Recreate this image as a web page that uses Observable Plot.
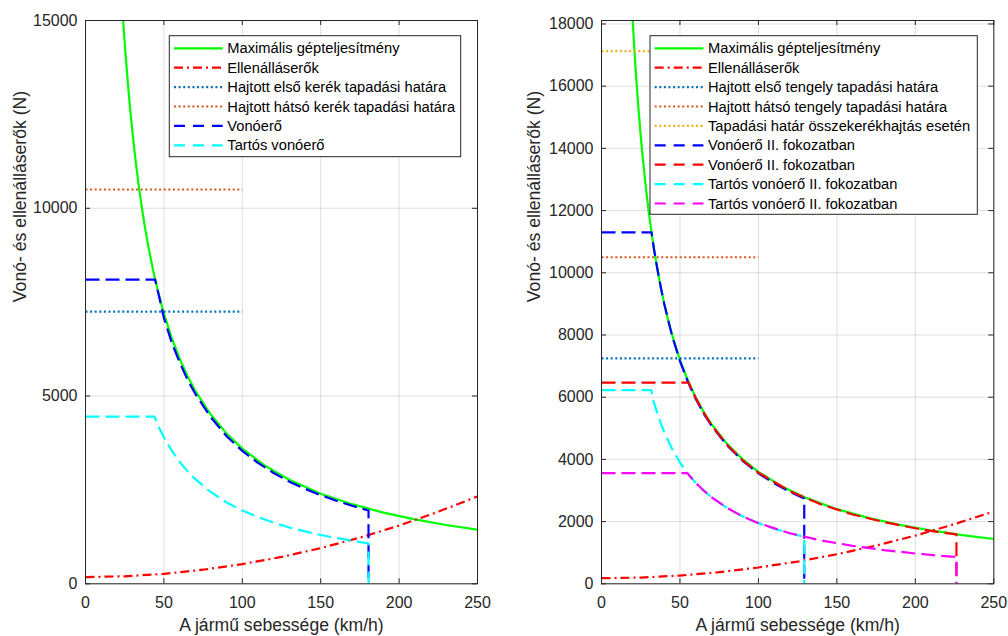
<!DOCTYPE html>
<html><head><meta charset="utf-8">
<script src="https://cdn.jsdelivr.net/npm/d3@7"></script>
<script src="https://cdn.jsdelivr.net/npm/@observablehq/plot@0.6"></script>
<style>
body{margin:0;background:#fff;}
#wrap{position:relative;width:1008px;height:636px;overflow:hidden;}
#left{position:absolute;left:0;top:0;}
#right{position:absolute;left:500px;top:0;}
</style></head><body>
<div id="wrap"><div id="left"></div><div id="right"></div></div>
<script>
// ---------- data ----------
const speedTicks = [0, 50, 100, 150, 200, 250];
const forceTicksLeft = [0, 5000, 10000, 15000];
const forceTicksRight = [0, 2000, 4000, 6000, 8000, 10000, 12000, 14000, 16000, 18000];
const xLabel = "A jármű sebessége (km/h)";
const yLabel = "Vonó- és ellenálláserők (N)";

// Maximális gépteljesítmény (both charts)
const maxPowerSpeed = [19.9, 21, 22, 23, 24, 25, 26, 28, 30, 32, 34, 36, 38, 40, 43, 46, 50, 55, 60, 65, 70, 80, 90, 100, 115, 130, 150, 170, 190, 210, 230, 250];
const maxPowerForce = [18100, 17140, 16360, 15650, 15000, 14400, 13850, 12860, 12000, 11250, 10590, 10000, 9470, 9000, 8370, 7830, 7200, 6545, 6000, 5540, 5140, 4500, 4000, 3600, 3130, 2770, 2400, 2120, 1895, 1715, 1565, 1440];

// Ellenálláserők (both charts)
const resistanceSpeed = [0, 25, 50, 75, 100, 125, 150, 175, 200, 225, 250];
const resistanceForce = [180, 200, 265, 375, 525, 715, 950, 1230, 1550, 1920, 2325];

// Adhesion limits (horizontal, 0..100 km/h)
const adhesionSpeed = [0, 100];
const frontAdhesionForce = [7250, 7250];
const rearAdhesionForce = [10500, 10500];
const allWheelAdhesionForce = [17130, 17130];

// Left chart: Vonóerő and Tartós vonóerő
const tractionSpeedL = [0, 44.4, 47, 50, 55, 60, 65, 70, 80, 90, 100, 110, 120, 130, 140, 150, 160, 170, 178.5, 180.5, 180.5];
const tractionForceL = [8100, 8100, 7640, 7080, 6420, 5900, 5440, 5060, 4430, 3930, 3540, 3220, 2950, 2720, 2530, 2360, 2210, 2080, 1975, 1950, 0];
const sustainedSpeedL = [0, 44, 47, 50, 55, 60, 65, 70, 80, 90, 100, 110, 120, 130, 140, 150, 160, 170, 176, 180.5, 180.5];
const sustainedForceL = [4450, 4450, 4150, 3900, 3545, 3250, 3000, 2785, 2440, 2165, 1950, 1775, 1625, 1500, 1395, 1300, 1220, 1150, 1105, 1080, 0];

// Right chart: two gears
const gear1Speed = [0, 31.9, 33, 35, 38, 40, 45, 50, 55, 60, 65, 70, 80, 90, 100, 110, 120, 129.2, 129.2];
const gear1Force = [11300, 11300, 10900, 10290, 9480, 9000, 7970, 7160, 6500, 5950, 5480, 5090, 4450, 3950, 3550, 3230, 2960, 2740, 0];
const gear2Speed = [0, 55.6, 58, 60, 65, 70, 80, 90, 100, 120, 140, 160, 180, 200, 215, 226.2, 226.2];
const gear2Force = [6470, 6470, 6180, 5980, 5510, 5110, 4470, 3970, 3570, 2980, 2550, 2230, 1985, 1785, 1660, 1590, 0];
const sustained1Speed = [0, 31.7, 33, 35, 38, 40, 45, 50, 55, 60, 70, 80, 90, 100, 110, 120, 129.2, 129.2];
const sustained1Force = [6230, 6230, 5900, 5570, 5130, 4875, 4335, 3900, 3545, 3250, 2785, 2440, 2165, 1950, 1775, 1625, 1510, 0];
const sustained2Speed = [0, 54.6, 57, 60, 65, 70, 80, 90, 100, 120, 140, 160, 180, 200, 215, 226.2, 226.2];
const sustained2Force = [3560, 3560, 3420, 3250, 3000, 2785, 2440, 2165, 1950, 1625, 1395, 1220, 1085, 975, 905, 862, 0];

const legendLeft = ["Maximális gépteljesítmény", "Ellenálláserők", "Hajtott első kerék tapadási határa", "Hajtott hátsó kerék tapadási határa", "Vonóerő", "Tartós vonóerő"];
const legendRight = ["Maximális gépteljesítmény", "Ellenálláserők", "Hajtott első tengely tapadási határa", "Hajtott hátsó tengely tapadási határa", "Tapadási határ összekerékhajtás esetén", "Vonóerő II. fokozatban", "Vonóerő II. fokozatban", "Tartós vonóerő II. fokozatban", "Tartós vonóerő II. fokozatban"];

// ---------- styles ----------
const SOLID = null, DASHDOT = "9,4,2,4", DOTTED = "2,2.6", DASHED = "14,6";
const FONT = "'Liberation Sans', Arial, Helvetica, sans-serif";
const AX = "#262626";

function pts(xs, ys) { return xs.map((v, i) => ({v, f: ys[i]})); }

function chart(cfg) {
  const H = 636, mt = 20, mb = 52.7;
  const innerH = H - mt - mb, innerW = cfg.width - cfg.marginLeft - cfg.marginRight;
  const marks = [
    Plot.gridX(speedTicks, {stroke: AX, strokeOpacity: 0.15}),
    Plot.gridY(cfg.yTicks, {stroke: AX, strokeOpacity: 0.15}),
    ...cfg.series.map(s => Plot.line(pts(s.v, s.f), {
      x: "v", y: "f", stroke: s.color, strokeWidth: 2.2,
      strokeDasharray: s.dash, strokeLinecap: "butt", clip: true
    })),
    Plot.frame({stroke: AX, strokeWidth: 1}),
    Plot.tickX(speedTicks, {x: d => d, insetTop: innerH - 5, stroke: AX}),
    Plot.tickX(speedTicks, {x: d => d, insetBottom: innerH - 5, stroke: AX}),
    Plot.tickY(cfg.yTicks, {y: d => d, insetRight: innerW - 5, stroke: AX}),
    Plot.tickY(cfg.yTicks, {y: d => d, insetLeft: innerW - 5, stroke: AX}),
    Plot.axisX(speedTicks, {tickSize: 0, tickPadding: 12.5, label: null, fontSize: 16, fill: AX}),
    Plot.axisY(cfg.yTicks, {tickSize: 0, tickPadding: 8, label: null, tickFormat: "d", fontSize: 16, fill: AX}),
    Plot.text([xLabel], {text: d => d, frameAnchor: "bottom", lineAnchor: "top", dy: 34.7, fontSize: 17.6, fill: AX}),
    Plot.text([yLabel], {text: d => d, frameAnchor: "left", rotate: -90, dx: cfg.yLabelDx, fontSize: 17.6, fill: AX})
  ];
  const svg = Plot.plot({
    width: cfg.width, height: H,
    marginLeft: cfg.marginLeft, marginRight: cfg.marginRight, marginTop: mt, marginBottom: mb,
    x: {domain: [0, 250], label: null},
    y: {domain: cfg.yDomain, label: null},
    style: {fontFamily: FONT, fontSize: "16px", color: AX, background: "white", overflow: "visible"},
    marks
  });
  // legend box
  const L = cfg.legendBox;
  const g = d3.select(svg).append("g")
    .attr("font-family", FONT).attr("font-size", 14.7).attr("text-anchor", "start");
  g.append("rect").attr("x", L.x).attr("y", L.y).attr("width", L.w).attr("height", L.h)
    .attr("fill", "white").attr("stroke", AX).attr("stroke-width", 1);
  cfg.series.forEach((s, i) => {
    const y = L.y + 12.6 + i * 19.4;
    g.append("line").attr("x1", L.x + 4.7).attr("x2", L.x + 53.4).attr("y1", y).attr("y2", y)
      .attr("stroke", s.color).attr("stroke-width", 2.2)
      .attr("stroke-dasharray", s.dash === SOLID ? null : (s.dash === DASHED ? "11,8" : s.dash));
    g.append("text").attr("x", L.x + 58).attr("y", y).attr("dy", "0.35em")
      .attr("text-anchor", "start").attr("fill", "#000").text(cfg.legend[i]);
  });
  return svg;
}

const leftSeries = [
  {v: maxPowerSpeed, f: maxPowerForce, color: "#00ff00", dash: SOLID},
  {v: resistanceSpeed, f: resistanceForce, color: "#ff0000", dash: DASHDOT},
  {v: adhesionSpeed, f: frontAdhesionForce, color: "#0072bd", dash: DOTTED},
  {v: adhesionSpeed, f: rearAdhesionForce, color: "#d95319", dash: DOTTED},
  {v: tractionSpeedL, f: tractionForceL, color: "#0000ff", dash: DASHED},
  {v: sustainedSpeedL, f: sustainedForceL, color: "#00ffff", dash: DASHED}
];
const rightSeries = [
  {v: maxPowerSpeed, f: maxPowerForce, color: "#00ff00", dash: SOLID},
  {v: resistanceSpeed, f: resistanceForce, color: "#ff0000", dash: DASHDOT},
  {v: adhesionSpeed, f: frontAdhesionForce, color: "#0072bd", dash: DOTTED},
  {v: adhesionSpeed, f: rearAdhesionForce, color: "#d95319", dash: DOTTED},
  {v: adhesionSpeed, f: allWheelAdhesionForce, color: "#edb120", dash: DOTTED},
  {v: gear1Speed, f: gear1Force, color: "#0000ff", dash: DASHED},
  {v: gear2Speed, f: gear2Force, color: "#ff0000", dash: DASHED},
  {v: sustained1Speed, f: sustained1Force, color: "#00ffff", dash: DASHED},
  {v: sustained2Speed, f: sustained2Force, color: "#ff00ff", dash: DASHED}
];

document.getElementById("left").appendChild(chart({
  width: 500, marginLeft: 85, marginRight: 23, yDomain: [0, 15000], yTicks: forceTicksLeft,
  series: leftSeries, legend: legendLeft, yLabelDx: -65.6,
  legendBox: {x: 169.3, y: 35.7, w: 291.4, h: 121}
}));
document.getElementById("right").appendChild(chart({
  width: 508, marginLeft: 101, marginRight: 14.7, yDomain: [0, 18112], yTicks: forceTicksRight,
  series: rightSeries, legend: legendRight, yLabelDx: -67.3,
  legendBox: {x: 150, y: 35.7, w: 327.3, h: 178.6}
}));
</script>
</body></html>
